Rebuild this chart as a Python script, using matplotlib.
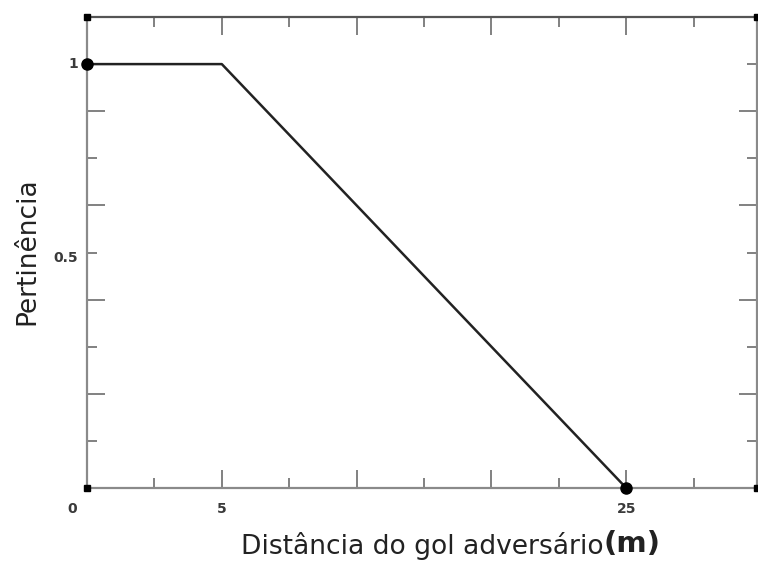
import numpy as np
import matplotlib
matplotlib.use("Agg")
import matplotlib.pyplot as plt
from matplotlib.ticker import FixedLocator, NullFormatter
import matplotlib.transforms as mtransforms

# data: membership function "Distância do gol adversário"
dist = [0, 5, 25]
pert = [1, 1, 0]
points_x = [0, 25]
points_y = [1, 0]
xtick_vals = [0, 5, 25]
xtick_labels = ["0", "5", "25"]
ytick_vals = [0.5, 1]
ytick_labels = ["0.5", "1"]

# piecewise axis scales (drawing is not proportional in the original)
x_bp = [-100, 0, 5, 25, 300]
x_pos = [-20, 0, 1, 4, 4 + 275 * 3 / 20]
y_bp = [-1, 0, 0.5, 1, 3]
y_pos = [-10, 0, 5, 9, 25]

def xf(v):
    return np.interp(v, x_bp, x_pos)

def xi(v):
    return np.interp(v, x_pos, x_bp)

def yf(v):
    return np.interp(v, y_bp, y_pos)

def yi(v):
    return np.interp(v, y_pos, y_bp)

fig = plt.figure(figsize=(7.58, 5.64), dpi=100)
ax = fig.add_axes([87 / 758, 76 / 564, 670 / 758, 471 / 564])
ax.set_xscale("function", functions=(xf, xi))
ax.set_yscale("function", functions=(yf, yi))

x_right = xi(4.97)
y_top = yi(10)
ax.set_xlim(0, x_right)
ax.set_ylim(0, y_top)

ax.plot(dist, pert, color="#222222", lw=1.8, solid_joinstyle="round", zorder=3)
ax.plot(points_x, points_y, "o", color="black", ms=8, clip_on=False, zorder=4)
ax.plot([0, 0, x_right, x_right], [0, y_top, y_top, 0], "s", color="black",
        ms=5, clip_on=False, zorder=4)

# ticks
xmaj = [xi(k) for k in range(0, 5)]
xmin = [xi(k + 0.5) for k in range(0, 5)]
ymaj = [yi(k) for k in range(2, 10, 2)]
ymin = [yi(k) for k in range(1, 10, 2)]

ax.xaxis.set_major_locator(FixedLocator(xmaj))
ax.xaxis.set_minor_locator(FixedLocator(xmin))
ax.yaxis.set_major_locator(FixedLocator(ymaj))
ax.yaxis.set_minor_locator(FixedLocator(ymin))
ax.xaxis.set_major_formatter(NullFormatter())
ax.yaxis.set_major_formatter(NullFormatter())
ax.xaxis.set_minor_formatter(NullFormatter())
ax.yaxis.set_minor_formatter(NullFormatter())

ax.tick_params(which="major", direction="in", length=13, width=1.3,
               color="#777777", top=True, right=True)
ax.tick_params(which="minor", direction="in", length=7, width=1.3,
               color="#777777", top=True, right=True)

for s in ax.spines.values():
    s.set_color("#8a8a8a")
    s.set_linewidth(1.6)
ax.spines["top"].set_color("#555555")

# tick labels as text at data positions
trans_x = ax.get_xaxis_transform()
for v, lab in zip(xtick_vals, xtick_labels):
    off = mtransforms.ScaledTranslation(-0.15 if v == 0 else 0, 0, fig.dpi_scale_trans)
    ax.text(v, -0.045, lab, transform=trans_x + off, ha="center", va="center",
            fontsize=10, fontweight="bold", color="#3a3a3a", family="DejaVu Sans")
trans_y = ax.get_yaxis_transform()
for v, lab in zip(ytick_vals, ytick_labels):
    off = mtransforms.ScaledTranslation(0, -0.05 if v == 0.5 else 0, fig.dpi_scale_trans)
    ax.text(-0.013, v, lab, transform=trans_y + off, ha="right", va="center",
            fontsize=10, fontweight="bold", color="#3a3a3a", family="DejaVu Sans")

t = fig.text(241 / 758, 1 - 546 / 564, "Distância do gol adversário", ha="left",
             va="center", fontsize=19.1, color="#222222", family="DejaVu Sans")
fig.canvas.draw()
bb = t.get_window_extent()
fig.text(bb.x1 / 758, 1 - 544 / 564, "(m)", ha="left", va="center",
         fontsize=21, fontweight="bold", color="#222222", family="DejaVu Sans")
fig.text(27 / 758, 1 - 251 / 564, "Pertinência", ha="center", va="center",
         rotation=90, fontsize=19, color="#222222", family="DejaVu Sans")

fig.savefig("out.png", dpi=100, facecolor="white")
